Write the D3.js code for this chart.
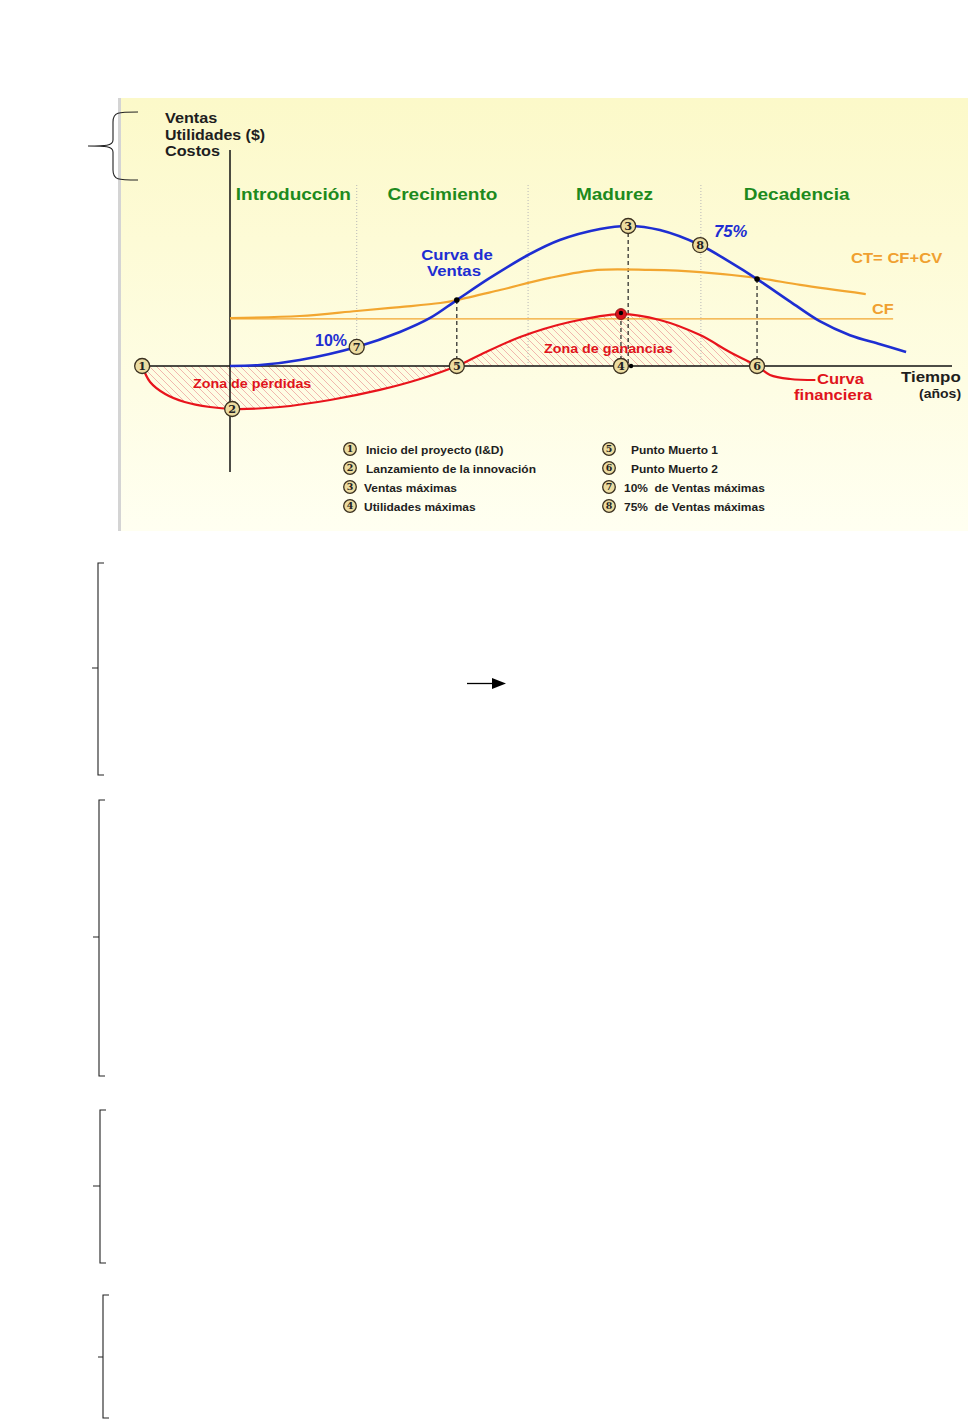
<!DOCTYPE html>
<html>
<head>
<meta charset="utf-8">
<script src="https://cdn.jsdelivr.net/npm/d3@7"></script>
<style>
  body { margin: 0; background: #fff; }
  svg { display: block; }
  text { white-space: pre; }
</style>
</head>
<body>
<div id="chart"></div>
<script>
// ciclo de vida del producto: tiempo en años (0 = lanzamiento), valores en % de ventas máximas
const tiempoVentas = [0, 0.42, 0.97, 1.76, 2.36, 2.78, 3.15, 3.61, 4.14, 4.58, 5.14, 5.53, 5.97, 6.53, 6.94, 7.32, 7.78, 8.19, 8.61, 9.03, 9.39];
const ventas       = [0, 0.7, 4.3, 13.6, 24.3, 34.3, 47.1, 62.9, 79.3, 90, 97.9, 100, 97.1, 86.4, 74.3, 62.1, 46, 32, 22, 15.5, 10];

const tiempoCT = [0, 0.97, 1.76, 2.36, 2.92, 3.15, 3.75, 4.44, 5.10, 5.83, 6.53, 7.32, 7.92, 8.83];
const costoTotal = [34.3, 35.7, 39.3, 42.1, 45, 47.1, 54.3, 62.9, 68.6, 68.6, 67.1, 62.9, 57.9, 51.4];

const tiempoCF = [0, 9.21];
const costoFijo = [33.6, 33.6];

const tiempoFin = [-1.22, -1.11, -0.9, -0.63, -0.28, 0.03, 0.69, 1.39, 2.08, 2.64, 3.15, 3.47, 4.03, 4.72, 5.43, 5.97, 6.53, 6.94, 7.32, 7.5, 7.78, 8.13];
const financiera = [0, -11.4, -20, -25.7, -29.3, -30.7, -29.3, -24.3, -17.1, -9.3, 0, 7.9, 20.7, 31.4, 37.1, 32.9, 22.1, 10, 0, -6.4, -9.3, -10];

const fases = ["Introducción", "Crecimiento", "Madurez", "Decadencia"];
const limitesFases = [0, 1.76, 4.14, 6.54, 9.2];

const puntosId = [1, 2, 3, 4, 5, 6, 7, 8];
const puntosT  = [-1.22, 0.03, 5.53, 5.43, 3.15, 7.32, 1.76, 6.53];
const puntosV  = [0, -30.7, 100, 0, 0, 0, 13.6, 86.4];

const leyendaIzq = ["Inicio del proyecto (I&D)", "Lanzamiento de la innovación", "Ventas máximas", "Utilidades máximas"];
const leyendaDer = ["Punto Muerto 1", "Punto Muerto 2", "10%  de Ventas máximas", "75%  de Ventas máximas"];

// guías verticales discontinuas: [t, valor superior]
const guias = [[3.15, 47.1], [5.53, 100], [5.43, 37.1], [7.32, 62.1]];
const cortes = [[3.15, 47.1], [7.32, 62.1]];

const W = 968, H = 1426;
const svg = d3.select("#chart").append("svg")
    .attr("width", W).attr("height", H)
    .style("font-family", "'Liberation Sans', Arial, sans-serif");

const x = d3.scaleLinear().domain([0, 10]).range([230, 950]);
const y = d3.scaleLinear().domain([0, 100]).range([366, 226]);

const defs = svg.append("defs");
const grad = defs.append("linearGradient").attr("id", "bg").attr("x1", 0).attr("y1", 0).attr("x2", 0).attr("y2", 1);
grad.append("stop").attr("offset", "0%").attr("stop-color", "#fcf9c9");
grad.append("stop").attr("offset", "100%").attr("stop-color", "#fffff1");

const hatch = defs.append("pattern").attr("id", "hatch")
    .attr("patternUnits", "userSpaceOnUse").attr("width", 7).attr("height", 7);
hatch.append("path").attr("d", "M-1,-1L8,8M-8,-1L1,8M6,-1L15,8")
    .attr("stroke", "#eda5a0").attr("stroke-width", 0.8);

// panel de fondo
svg.append("rect").attr("x", 118).attr("y", 98).attr("width", 850).attr("height", 433).attr("fill", "url(#bg)");
svg.append("rect").attr("x", 118).attr("y", 98).attr("width", 3).attr("height", 433).attr("fill", "#d4d4d4");

// zonas rayadas
const zona = d3.area().curve(d3.curveCatmullRom)
    .x(d => x(d[0])).y0(y(0)).y1(d => y(d[1]));
const finPts = tiempoFin.map((t, i) => [t, financiera[i]]);
svg.append("path").datum(finPts.filter(d => d[0] <= 3.15)).attr("d", zona).attr("fill", "url(#hatch)");
svg.append("path").datum(finPts.filter(d => d[0] >= 3.15 && d[0] <= 7.32)).attr("d", zona).attr("fill", "url(#hatch)");

// separadores de fases
svg.append("g").selectAll("line").data(limitesFases.slice(1, 4)).join("line")
    .attr("x1", d => x(d)).attr("x2", d => x(d))
    .attr("y1", 185).attr("y2", (d, i) => i == 0 ? y(13.6) : y(0))
    .attr("stroke", "#b8b8b8").attr("stroke-width", 1).attr("stroke-dasharray", "1,2");

// textos (la fuente original es algo más ancha: se estira en horizontal)
function texto(t, px, py, color, size, sx, extra) {
  const el = svg.append("text")
      .attr("transform", `translate(${px},${py}) scale(${sx || 1},1)`)
      .attr("fill", color).attr("font-weight", "bold").attr("font-size", size).text(t);
  if (extra) extra(el);
  return el;
}

fases.forEach((f, i) => {
  texto(f, (x(limitesFases[i]) + x(limitesFases[i + 1])) / 2, 200, "#1d8a1d", 17, 1.12,
        e => e.attr("text-anchor", "middle"));
});

// ejes
svg.append("line").attr("x1", 138).attr("x2", 952).attr("y1", y(0)).attr("y2", y(0)).attr("stroke", "#111").attr("stroke-width", 1.5);
svg.append("line").attr("x1", x(0)).attr("x2", x(0)).attr("y1", 150).attr("y2", 472).attr("stroke", "#111").attr("stroke-width", 1.5);

// guías discontinuas
svg.append("g").selectAll("line").data(guias).join("line")
    .attr("x1", d => x(d[0])).attr("x2", d => x(d[0]))
    .attr("y1", d => y(d[1])).attr("y2", y(0))
    .attr("stroke", "#222").attr("stroke-width", 1.2).attr("stroke-dasharray", "4,3");

const line = d3.line().curve(d3.curveCatmullRom).x(d => x(d[0])).y(d => y(d[1]));

svg.append("path").datum(tiempoCF.map((t, i) => [t, costoFijo[i]]))
    .attr("d", line).attr("fill", "none").attr("stroke", "#f2a630").attr("stroke-width", 1.2);
svg.append("path").datum(tiempoCT.map((t, i) => [t, costoTotal[i]]))
    .attr("d", line).attr("fill", "none").attr("stroke", "#f2a630").attr("stroke-width", 2.2);
svg.append("path").datum(finPts)
    .attr("d", line).attr("fill", "none").attr("stroke", "#e8141c").attr("stroke-width", 2.2);
svg.append("path").datum(tiempoVentas.map((t, i) => [t, ventas[i]]))
    .attr("d", line).attr("fill", "none").attr("stroke", "#1e2ed2").attr("stroke-width", 2.6);

// puntos de corte
svg.append("g").selectAll("circle").data(cortes).join("circle")
    .attr("cx", d => x(d[0])).attr("cy", d => y(d[1])).attr("r", 2.8).attr("fill", "#000");
svg.append("circle").attr("cx", x(5.43)).attr("cy", y(37.1)).attr("r", 5.5).attr("fill", "#d8141c").attr("stroke", "#7a0a0a").attr("stroke-width", 0.8);
svg.append("circle").attr("cx", x(5.43)).attr("cy", y(37.1) - 1).attr("r", 2.2).attr("fill", "#000");
svg.append("circle").attr("cx", x(5.57)).attr("cy", y(0)).attr("r", 2.2).attr("fill", "#000");

// marcadores numerados
function marcador(g, cx, cy, n, r) {
  g.append("circle").attr("cx", cx).attr("cy", cy).attr("r", r)
      .attr("fill", "#ecdca0").attr("stroke", "#3a3020").attr("stroke-width", 1.3);
  g.append("text").attr("x", cx).attr("y", cy + r * 0.5).attr("text-anchor", "middle")
      .attr("font-size", r * 1.5).attr("font-weight", "bold")
      .attr("font-family", "'DejaVu Serif', serif").attr("fill", "#222").text(n);
}
const gm = svg.append("g");
puntosId.forEach((n, i) => marcador(gm, x(puntosT[i]), y(puntosV[i]), n, 7.5));

texto("Ventas", 165, 123, "#1e1e1e", 14.5, 1.12);
texto("Utilidades ($)", 165, 140, "#1e1e1e", 14.5, 1.1);
texto("Costos", 165, 156, "#1e1e1e", 14.5, 1.12);

texto("Curva de", 457, 260, "#1e2ed2", 15.5, 1.08, e => e.attr("text-anchor", "middle"));
texto("Ventas", 454, 276, "#1e2ed2", 15.5, 1.08, e => e.attr("text-anchor", "middle"));
texto("10%", 315, 346, "#1e2ed2", 16);
texto("75%", 714, 237, "#1e2ed2", 16, 1.04, e => e.attr("font-style", "italic"));
texto("CT= CF+CV", 851, 263, "#f0a030", 15.5, 1.07);
texto("CF", 872, 314, "#f0a030", 15.5, 1.05);
texto("Zona de pérdidas", 193, 388, "#e0141c", 13, 1.1);
texto("Zona de ganancias", 544, 353, "#e0141c", 13, 1.1);
texto("Curva", 817, 384, "#e0141c", 15.5, 1.07);
texto("financiera", 794, 400, "#e0141c", 15.5, 1.07);
texto("Tiempo", 901, 382, "#1e1e1e", 15.5, 1.09);
texto("(años)", 919, 398, "#1e1e1e", 13, 1.08);

// leyenda
const filas = [449, 468, 487, 506];
leyendaIzq.forEach((t, i) => {
  marcador(gm, 350, filas[i], i + 1, 6.3);
  texto(t, i < 2 ? 366 : 364, filas[i] + 4.5, "#1e1e1e", 11.5, 1.04);
});
leyendaDer.forEach((t, i) => {
  marcador(gm, 609, filas[i], i + 5, 6.3);
  texto(t, i < 2 ? 631 : 624, filas[i] + 4.5, "#1e1e1e", 11.5, 1.04);
});

// llaves del documento (fuera del gráfico)
const llaves = [
  { top: 112, bot: 180, xv: 113, tip: 146, xt: 88, curva: true },
  { top: 563, bot: 775, xv: 98, tip: 668, xt: 92 },
  { top: 800, bot: 1076, xv: 99, tip: 937, xt: 93 },
  { top: 1110, bot: 1263, xv: 100, tip: 1186, xt: 93 },
  { top: 1295, bot: 1418, xv: 103, tip: 1357, xt: 98 }
];
llaves.forEach(b => {
  let d;
  if (b.curva) {
    d = `M138,${b.top} C118,${b.top} 113,${b.top} 113,${b.top + 10} L113,${b.tip - 6} C113,${b.tip} 105,${b.tip} ${b.xt},${b.tip}` +
        ` M${b.xt},${b.tip} C105,${b.tip} 113,${b.tip} 113,${b.tip + 6} L113,${b.bot - 10} C113,${b.bot} 118,${b.bot} 138,${b.bot}`;
  } else {
    d = `M${b.xv + 6},${b.top} L${b.xv},${b.top} L${b.xv},${b.bot} L${b.xv + 6},${b.bot} M${b.xt},${b.tip} L${b.xv},${b.tip}`;
  }
  svg.append("path").attr("d", d).attr("fill", "none").attr("stroke", "#222").attr("stroke-width", 1.1);
});

// flecha
svg.append("line").attr("x1", 467).attr("x2", 494).attr("y1", 683.5).attr("y2", 683.5).attr("stroke", "#000").attr("stroke-width", 1.3);
svg.append("path").attr("d", "M492,678 L506,683.5 L492,689 Z").attr("fill", "#000");
</script>
</body>
</html>
